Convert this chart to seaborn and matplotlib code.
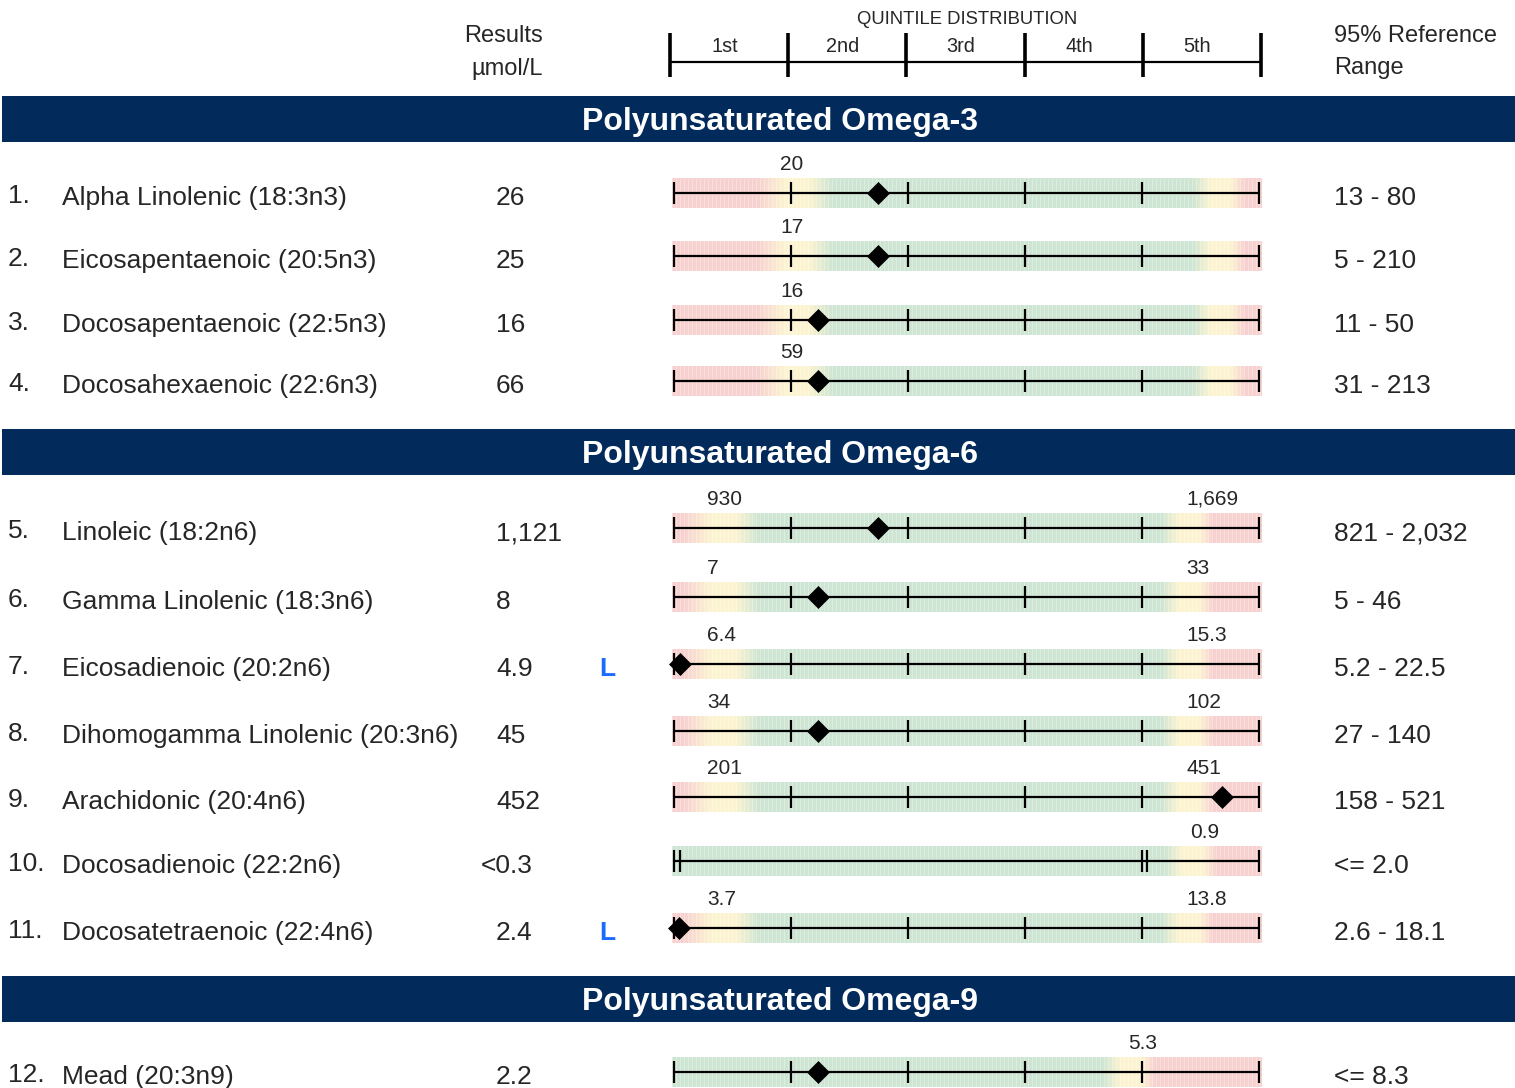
import numpy as np
import seaborn as sb
import matplotlib.pyplot as plt
from matplotlib.colors import to_rgb

# ---- data ----
names = ['Alpha Linolenic (18:3n3)', 'Eicosapentaenoic (20:5n3)', 'Docosapentaenoic (22:5n3)',
         'Docosahexaenoic (22:6n3)', 'Linoleic (18:2n6)', 'Gamma Linolenic (18:3n6)',
         'Eicosadienoic (20:2n6)', 'Dihomogamma Linolenic (20:3n6)', 'Arachidonic (20:4n6)',
         'Docosadienoic (22:2n6)', 'Docosatetraenoic (22:4n6)', 'Mead (20:3n9)']
results = ['26', '25', '16', '66', '1,121', '8', '4.9', '45', '452', '<0.3', '2.4', '2.2']
flags = ['', '', '', '', '', '', 'L', '', '', '', 'L', '']
ref_ranges = ['13 - 80', '5 - 210', '11 - 50', '31 - 213', '821 - 2,032', '5 - 46',
              '5.2 - 22.5', '27 - 140', '158 - 521', '<= 2.0', '2.6 - 18.1', '<= 8.3']
lo_labels = ['20', '17', '16', '59', '930', '7', '6.4', '34', '201', '', '3.7', '']
hi_labels = ['', '', '', '', '1,669', '33', '15.3', '102', '451', '0.9', '13.8', '5.3']
# cut-off and result positions on the quintile scale (0 - 5)
lo_pos = [1.0, 1.0, 1.0, 1.0, 0.37, 0.37, 0.37, 0.37, 0.37, np.nan, 0.37, np.nan]
hi_pos = [4.74, 4.74, 4.74, 4.74, 4.47, 4.47, 4.47, 4.47, 4.47, 4.50, 4.47, 3.97]
marker_pos = [1.74, 1.74, 1.23, 1.23, 1.74, 1.23, 0.05, 1.23, 4.68, np.nan, 0.04, 1.23]
tick_sets = [None] * 9 + [[0, 0.05, 4.0, 4.045, 5]] + [None] * 2

sections = ['Polyunsaturated Omega-3', 'Polyunsaturated Omega-6', 'Polyunsaturated Omega-9']
quintiles = ['1st', '2nd', '3rd', '4th', '5th']

# ---- layout (pixels) ----
W, H = 1515, 1088
band_top = [96, 429, 976]
row_y = [193, 256, 320, 381, 528, 597, 664, 731, 797, 861, 928, 1072]
X0, Q = 674, 117          # left end of the bars and width of one quintile
NAVY = '#022b5c'
RED, YEL, GRN = to_rgb('#f7d0d0'), to_rgb('#fcf4d0'), to_rgb('#cfe5d3')

sb.set_theme(style='white')
plt.rcParams['font.family'] = ['Liberation Sans', 'DejaVu Sans']

fig = plt.figure(figsize=(W / 100, H / 100), dpi=100)
base = fig.add_axes([0, 0, 1, 1])
base.set_xlim(0, W)
base.set_ylim(H, 0)
base.axis('off')


def px_axes(x, y, w, h):
    return fig.add_axes([x / W, 1 - (y + h) / H, w / W, h / H])


# header
base.text(504, 42, 'Results', ha='center', fontsize=17)
base.text(507, 75, 'µmol/L', ha='center', fontsize=17)
base.text(1334, 42, '95% Reference', ha='left', fontsize=17)
base.text(1334, 74, 'Range', ha='left', fontsize=17)
base.text(967, 24, 'QUINTILE DISTRIBUTION', ha='center', fontsize=13.3)

hdr = px_axes(670, 28, 591, 54)
hdr.set_xlim(0, 5)
hdr.set_ylim(82, 28)
hdr.axis('off')
hdr.hlines(62, 0, 5, color='black', lw=1.6)
hdr.vlines(range(6), 33, 77, color='black', lw=2.6, clip_on=False)
for i, q in enumerate(quintiles):
    hdr.text(i + 0.46, 52, q, ha='center', fontsize=14.3)

# section bands
for top, title in zip(band_top, sections):
    base.add_patch(plt.Rectangle((2, top), W - 2, 46, color=NAVY, lw=0))
    base.text(780, top + 34, title, ha='center', color='white', fontsize=23, fontweight='bold')

# rows
xl, xr = (672 - X0) / Q, (1262 - X0) / Q
ncol = 590
grid = np.linspace(xl, xr, ncol)

for i, y in enumerate(row_y):
    base.text(8, y + 10, f'{i + 1}.', fontsize=19)
    base.text(62, y + 12, names[i], fontsize=19)
    rx = 481 if results[i].startswith('<') else 496
    base.text(rx, y + 12, results[i], fontsize=19)
    if flags[i]:
        base.text(599, y + 12, flags[i], fontsize=19, fontweight='bold', color='#1a6cff')
    base.text(1334, y + 12, ref_ranges[i], fontsize=19)

    # coloured band: red outside, yellow at cut-off, green inside
    lo, hi = lo_pos[i], hi_pos[i]
    xp, cols = [xl], []
    if np.isnan(lo):
        cols.append(GRN)
    else:
        xp += [lo - 0.3, lo - 0.05, lo + 0.15, lo + 0.35]
        cols += [RED, RED, YEL, YEL, GRN]
    xp += [hi - 0.3, hi - 0.15, hi + 0.02, hi + 0.15, xr]
    cols += [GRN, YEL, YEL, RED, RED]
    cols = np.array(cols)
    img = np.stack([np.interp(grid, xp, cols[:, c]) for c in range(3)], axis=-1)
    img[::4] = img[::4] * 0.7 + 0.3          # light vertical stripes
    img = img[None, :, :]

    ax = px_axes(672, y - 15, 590, 30)
    ax.imshow(img, extent=[xl, xr, -1, 1], aspect='auto', interpolation='nearest', zorder=0)
    ax.set_xlim(xl, xr)
    ax.set_ylim(-1, 1)
    ax.axis('off')

    ticks = tick_sets[i] if tick_sets[i] else list(range(6))
    sb.lineplot(x=[0, 5], y=[0, 0], color='black', linewidth=1.6, ax=ax)
    ax.vlines(ticks, -0.75, 0.75, color='black', lw=1.6)
    if not np.isnan(marker_pos[i]):
        sb.scatterplot(x=[marker_pos[i]], y=[0], marker='D', s=125, color='black',
                       edgecolor='black', linewidth=0.5, ax=ax, zorder=5, clip_on=False)

    # cut-off values sit just above the band, starting a little left of the cut
    if lo_labels[i]:
        ax.text(lo - 0.09, 1.55, lo_labels[i], ha='left', fontsize=15, clip_on=False)
    if hi_labels[i]:
        ax.text(hi - 0.09, 1.55, hi_labels[i], ha='left', fontsize=15, clip_on=False)

fig.savefig('out.png', dpi=100)
